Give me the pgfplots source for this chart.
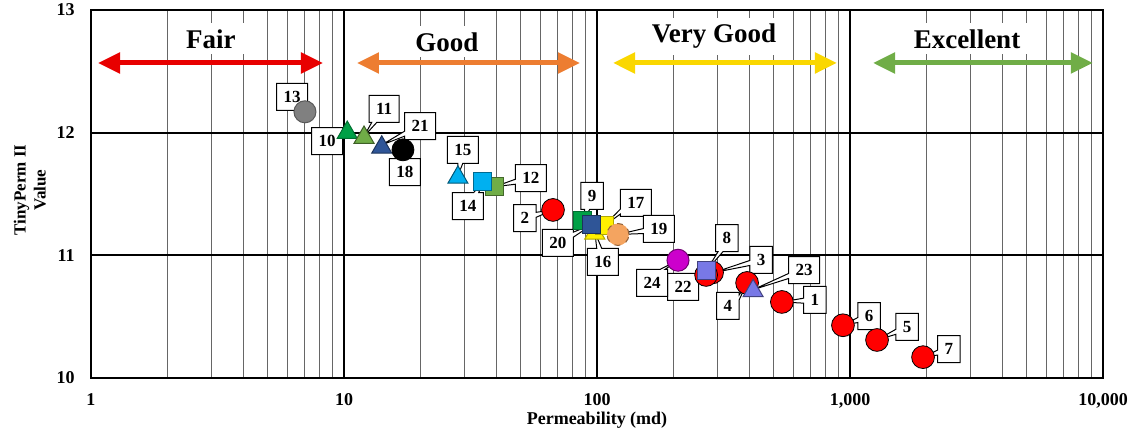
\documentclass[border=0pt]{standalone}
\usepackage{fontspec}
\setmainfont{Liberation Serif}
\usepackage{pgfplots}
\pgfplotsset{compat=1.18}
\usetikzlibrary{arrows.meta,shapes.callouts}
\definecolor{fairred}{RGB}{232,0,0}
\definecolor{goodorange}{RGB}{237,125,49}
\definecolor{vgyellow}{RGB}{250,215,0}
\definecolor{exgreen}{RGB}{112,173,71}
\definecolor{ptred}{RGB}{255,0,0}
\definecolor{ptgray}{RGB}{128,128,128}
\definecolor{ptgreen}{RGB}{0,160,70}
\definecolor{ptlgreen}{RGB}{112,173,71}
\definecolor{ptblue}{RGB}{47,85,151}
\definecolor{ptcyan}{RGB}{0,176,240}
\definecolor{ptyellow}{RGB}{255,240,0}
\definecolor{ptorange}{RGB}{244,164,96}
\definecolor{ptmag}{RGB}{204,0,204}
\definecolor{ptpurple}{RGB}{120,120,230}
\tikzset{lab/.style={rectangle callout, draw=black, line width=0.5pt, fill=white,
  font=\bfseries\fontsize{8.5}{9}\selectfont, inner xsep=3.5pt, inner ysep=0pt,
  minimum height=13.5pt, callout pointer width=2.5pt},
  cat/.style={font=\bfseries\fontsize{13.5}{14}\selectfont, fill=white, inner xsep=5pt, inner ysep=3pt, anchor=base}}
\begin{document}
\begin{tikzpicture}
\begin{axis}[name=ax, scale only axis, width=506pt, height=184pt,
  xmode=log, xmin=1, xmax=10000, ymin=10, ymax=13,
  xtick={1,10,100,1000,10000}, xticklabels={1,10,100,{1,000},{10,000}},
  minor xtick={2,3,4,5,6,7,8,9,20,30,40,50,60,70,80,90,200,300,400,500,600,700,800,900,2000,3000,4000,5000,6000,7000,8000,9000},
  ytick={10,11,12,13}, yticklabels={10,11,12,13},
  xmajorgrids=true, xminorgrids=true, ymajorgrids=true,
  major grid style={black, line width=0.9pt},
  minor grid style={black!60, line width=0.5pt},
  axis line style={line width=1.2pt},
  major tick length=0pt, minor tick length=0pt,
  ticklabel style={font=\bfseries\fontsize{9}{10}\selectfont, inner sep=0pt},
  xticklabel style={anchor=north, yshift=-7.5pt},
  yticklabel style={anchor=east, xshift=-8pt},
  xlabel={Permeability (md)},
  xlabel style={font=\bfseries\fontsize{9}{10}\selectfont, at={(rel axis cs:0.5,-0.114)}, anchor=center},
  ylabel={TinyPerm II\\Value},
  ylabel style={font=\bfseries\fontsize{8.5}{10}\selectfont, align=center, at={(rel axis cs:-0.0603,0.511)}, anchor=center},
  clip=false,
]
% range arrows
\addplot[fairred, line width=2.5pt, no markers, >={Triangle[length=11pt,width=10pt]}, <->] coordinates {(1.066,12.568) (8.26,12.568)};
\addplot[goodorange, line width=2.5pt, no markers, >={Triangle[length=11pt,width=10pt]}, <->] coordinates {(11.25,12.568) (85.7,12.568)};
\addplot[vgyellow, line width=2.5pt, no markers, >={Triangle[length=11pt,width=10pt]}, <->] coordinates {(115.7,12.568) (888,12.568)};
\addplot[exgreen, line width=2.5pt, no markers, >={Triangle[length=11pt,width=10pt]}, <->] coordinates {(1233,12.568) (9125,12.568)};
% red circles: 1,2,3,4,5,6,7,22
\addplot[only marks, mark=*, mark size=5.7pt, mark options={draw=none, fill=ptred}] coordinates {
 (538,10.62) (67,11.37) (285,10.86) (392,10.775) (1279,10.31) (938,10.43) (1944,10.17) (270,10.84)};
% 13 gray circle
\addplot[only marks, mark=*, mark size=5.5pt, mark options={draw=black!65, fill=ptgray, line width=0.5pt}] coordinates {(7.01,12.17)};
% 10 green triangle
\addplot[only marks, mark=triangle*, mark size=5.8pt, mark options={draw=ptgreen!70!black, fill=ptgreen, line width=0.5pt}] coordinates {(10.3,12.00)};
% 11 light green triangle
\addplot[only marks, mark=triangle*, mark size=5.8pt, mark options={draw=ptlgreen!55!black, fill=ptlgreen, line width=0.5pt}] coordinates {(12.0,11.96)};
% 21 blue triangle
\addplot[only marks, mark=triangle*, mark size=5.8pt, mark options={draw=ptblue!60!black, fill=ptblue, line width=0.5pt}] coordinates {(14.1,11.88)};
% 18 black circle
\addplot[only marks, mark=*, mark size=5.5pt, mark options={draw=black, fill=black}] coordinates {(17.1,11.86)};
% 15 cyan triangle
\addplot[only marks, mark=triangle*, mark size=5.8pt, mark options={draw=ptcyan!50!black, fill=ptcyan, line width=0.5pt}] coordinates {(28.2,11.635)};
% 12 light green square
\addplot[only marks, mark=square*, mark size=4.5pt, mark options={draw=ptlgreen!60!black, fill=ptlgreen, line width=0.5pt}] coordinates {(39.5,11.56)};
% 14 cyan square
\addplot[only marks, mark=square*, mark size=4.5pt, mark options={draw=ptcyan!60!black, fill=ptcyan, line width=0.5pt}] coordinates {(35.4,11.60)};
% 9 green square
\addplot[only marks, mark=square*, mark size=4.5pt, mark options={draw=ptgreen!70!black, fill=ptgreen, line width=0.5pt}] coordinates {(88,11.28)};
% 16 yellow triangle, 17 yellow square
\addplot[only marks, mark=triangle*, mark size=5.8pt, mark options={draw=ptyellow!70!black, fill=ptyellow, line width=0.5pt}] coordinates {(98,11.18)};
\addplot[only marks, mark=square*, mark size=4.5pt, mark options={draw=ptyellow!70!black, fill=ptyellow, line width=0.5pt}] coordinates {(106.6,11.24)};
% 20 blue square
\addplot[only marks, mark=square*, mark size=4.5pt, mark options={draw=ptblue!60!black, fill=ptblue, line width=0.5pt}] coordinates {(95.5,11.25)};
% 19 orange circle
\addplot[only marks, mark=*, mark size=5.5pt, mark options={draw=ptorange!60!black, fill=ptorange, line width=0.5pt, dashed}] coordinates {(121,11.17)};
% 24 magenta circle
\addplot[only marks, mark=*, mark size=5.5pt, mark options={draw=ptmag!55!black, fill=ptmag, line width=0.5pt}] coordinates {(209,10.96)};
% 8 purple square
\addplot[only marks, mark=square*, mark size=4.5pt, mark options={draw=ptpurple!55!black, fill=ptpurple, line width=0.5pt}] coordinates {(272,10.88)};
% 23 purple triangle
\addplot[only marks, mark=triangle*, mark size=5.8pt, mark options={draw=ptpurple!55!black, fill=ptpurple, line width=0.5pt}] coordinates {(414,10.71)};
% category labels
\node[cat] at (axis cs:2.98,12.690) {Fair};
\node[cat] at (axis cs:25.5,12.665) {Good};
\node[cat] at (axis cs:290,12.731) {Very Good};
\node[cat] at (axis cs:2900,12.690) {Excellent};
% callout labels
\node[lab, callout absolute pointer={(axis cs:538,10.62)}] at (axis cs:727,10.636) {1};
\node[lab, callout absolute pointer={(axis cs:67,11.37)}] at (axis cs:51.9,11.304) {2};
\node[lab, callout absolute pointer={(axis cs:290,10.86)}] at (axis cs:445,10.962) {3};
\node[lab, callout absolute pointer={(axis cs:392,10.775)}] at (axis cs:329,10.587) {4};
\node[lab, callout absolute pointer={(axis cs:1279,10.31)}] at (axis cs:1680,10.416) {5};
\node[lab, callout absolute pointer={(axis cs:938,10.43)}] at (axis cs:1189,10.505) {6};
\node[lab, callout absolute pointer={(axis cs:1944,10.17)}] at (axis cs:2461,10.236) {7};
\node[lab, callout absolute pointer={(axis cs:272,10.88)}] at (axis cs:326,11.141) {8};
\node[lab, callout absolute pointer={(axis cs:88,11.28)}] at (axis cs:95.6,11.484) {9};
\node[lab, callout absolute pointer={(axis cs:10.3,12.01)}] at (axis cs:8.57,11.932) {10};
\node[lab, callout absolute pointer={(axis cs:12.0,11.97)}] at (axis cs:14.4,12.193) {11};
\node[lab, callout absolute pointer={(axis cs:39.5,11.56)}] at (axis cs:54.8,11.630) {12};
\node[lab, callout absolute pointer={(axis cs:7.01,12.17)}] at (axis cs:6.23,12.291) {13};
\node[lab, callout absolute pointer={(axis cs:35.4,11.60)}] at (axis cs:30.9,11.402) {14};
\node[lab, callout absolute pointer={(axis cs:28.2,11.65)}] at (axis cs:29.5,11.859) {15};
\node[lab, callout absolute pointer={(axis cs:98,11.19)}] at (axis cs:105.6,10.946) {16};
\node[lab, callout absolute pointer={(axis cs:106.6,11.24)}] at (axis cs:142.6,11.427) {17};
\node[lab, callout absolute pointer={(axis cs:17.1,11.86)}] at (axis cs:17.4,11.679) {18};
\node[lab, callout absolute pointer={(axis cs:121,11.17)}] at (axis cs:175.8,11.215) {19};
\node[lab, callout absolute pointer={(axis cs:95.5,11.25)}] at (axis cs:70.1,11.101) {20};
\node[lab, callout absolute pointer={(axis cs:14.1,11.90)}] at (axis cs:20.0,12.054) {21};
\node[lab, callout absolute pointer={(axis cs:268,10.84)}] at (axis cs:218.8,10.742) {22};
\node[lab, callout absolute pointer={(axis cs:414,10.72)}] at (axis cs:658,10.880) {23};
\node[lab, callout absolute pointer={(axis cs:209,10.96)}] at (axis cs:165,10.775) {24};
\end{axis}
\pgfresetboundingbox
\path[use as bounding box] ([shift={(-45.5pt,-27.5pt)}]ax.south west) rectangle ([shift={(17.5pt,5pt)}]ax.north east);
\end{tikzpicture}
\end{document}
